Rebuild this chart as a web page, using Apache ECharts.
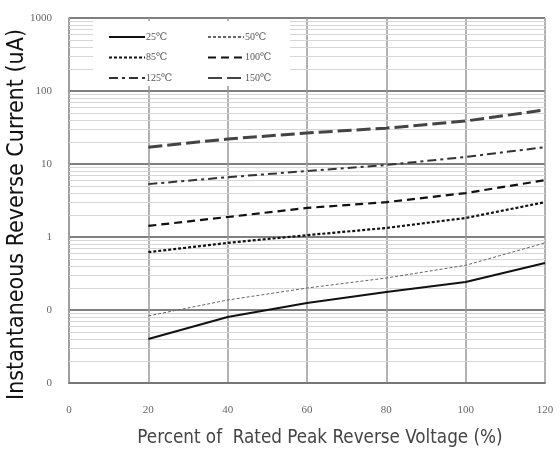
<!DOCTYPE html>
<html>
<head>
<meta charset="utf-8">
<script src="https://cdn.jsdelivr.net/npm/echarts@6/dist/echarts.min.js"></script>
<style>
html,body{margin:0;padding:0;background:#fff;}
#c{width:560px;height:452px;}
</style>
</head>
<body>
<div id="c"></div>
<script>
// Data
var xValues = [20, 40, 60, 80, 100, 120];
var seriesNames = ['25℃', '50℃', '85℃', '100℃', '125℃', '150℃'];
var s25  = [0.040, 0.080, 0.125, 0.177, 0.242, 0.44];
var s50  = [0.083, 0.137, 0.20, 0.274, 0.41, 0.83];
var s85  = [0.62, 0.83, 1.06, 1.33, 1.82, 3.0];
var s100 = [1.42, 1.88, 2.5, 3.0, 4.0, 6.0];
var s125 = [5.3, 6.6, 8.0, 9.7, 12.5, 17];
var s150 = [17, 22, 26.6, 31, 38.8, 55];
var yTickValues = [0.01, 0.1, 1, 10, 100, 1000];
var xTickLabels = [0, 20, 40, 60, 80, 100, 120];

function pairs(arr) { return xValues.map(function (x, i) { return [x, arr[i]]; }); }

// minor log gridlines 2..9 per decade
var minorLines = [];
for (var d = 0; d < yTickValues.length - 1; d++) {
  for (var m = 2; m <= 9; m++) minorLines.push({ yAxis: +(yTickValues[d] * m).toPrecision(3) });
}

var tickFont = '"Liberation Serif", "DejaVu Serif", serif';
var titleFont = '"Liberation Sans Narrow", "DejaVu Sans Condensed", "Liberation Sans", sans-serif';

var styles = [
  { color: '#111', width: 2, type: 'solid' },
  { color: '#666', width: 1, type: [3, 2] },
  { color: '#111', width: 2.2, type: [3, 2] },
  { color: '#111', width: 2.2, type: [8, 5] },
  { color: '#333', width: 2, type: [9, 4, 3, 4] },
  { color: '#444', width: 3, type: [14, 5] }
];
var allData = [s25, s50, s85, s100, s125, s150];

var series = [{
  name: 'minor', type: 'line', data: [], z: 1, silent: true,
  markLine: {
    symbol: 'none', silent: true, animation: false,
    label: { show: false },
    lineStyle: { color: '#d6d6d6', width: 1, type: 'solid' },
    data: minorLines
  }
}];
allData.forEach(function (arr, i) {
  series.push({
    name: seriesNames[i], type: 'line', data: pairs(arr), z: 5,
    symbol: 'none', showSymbol: false, animation: false,
    lineStyle: styles[i], itemStyle: { color: styles[i].color }
  });
});

var legendCommon = {
  z: 20, top: 27, orient: 'vertical',
  itemWidth: 36, itemHeight: 10, itemGap: 10.5,
  itemStyle: { opacity: 0, borderWidth: 0 },
  textStyle: { fontSize: 10, color: '#555', fontFamily: tickFont, padding: [0, 0, 0, -4] }
};

var chart = echarts.init(document.getElementById('c'), null, { renderer: 'canvas' });
chart.setOption({
  animation: false,
  backgroundColor: '#fff',
  grid: { left: 69, right: 15, top: 18, bottom: 69, containLabel: false, outerBoundsMode: 'none' },
  graphic: [{
    type: 'rect', z: 10, left: 93, top: 21,
    shape: { width: 197, height: 65 },
    style: { fill: '#fff' }
  }],
  legend: [
    Object.assign({}, legendCommon, { left: 103, data: ['25℃', '85℃', '125℃'] }),
    Object.assign({}, legendCommon, { left: 202, data: ['50℃', '100℃', '150℃'] })
  ],
  xAxis: {
    type: 'value', min: 0, max: 120, interval: 20,
    axisLine: { show: true, onZero: false, lineStyle: { color: '#777', width: 2 } },
    axisTick: { show: false },
    axisLabel: { margin: 22, fontSize: 11, color: '#666', fontFamily: tickFont,
      formatter: function (v) { return xTickLabels.indexOf(v) >= 0 ? String(v) : ''; } },
    splitLine: { show: true, lineStyle: { color: '#999', width: 1.5 } },
    name: 'Percent of  Rated Peak Reverse Voltage (%)',
    nameLocation: 'middle', nameGap: 46,
    nameTextStyle: { fontSize: 18.7, color: '#444', fontFamily: titleFont, padding: [0, 0, 0, 26] }
  },
  yAxis: {
    type: 'log', logBase: 10, min: 0.01, max: 1000,
    axisLine: { show: true, lineStyle: { color: '#999', width: 1.5 } },
    axisTick: { show: false },
    axisLabel: { margin: 17, fontSize: 11, color: '#666', fontFamily: tickFont,
      formatter: function (v) { return v >= 1 ? String(Math.round(v)) : '0'; } },
    splitLine: { show: true, lineStyle: { color: '#808080', width: 2 } },
    minorSplitLine: { show: false },
    name: 'Instantaneous Reverse Current (uA)',
    nameLocation: 'middle', nameGap: 40, nameMoveOverlap: false,
    nameTextStyle: { fontSize: 23, color: '#111', fontFamily: titleFont, padding: [0, 0, 0, -28] }
  },
  series: series
});
</script>
</body>
</html>
